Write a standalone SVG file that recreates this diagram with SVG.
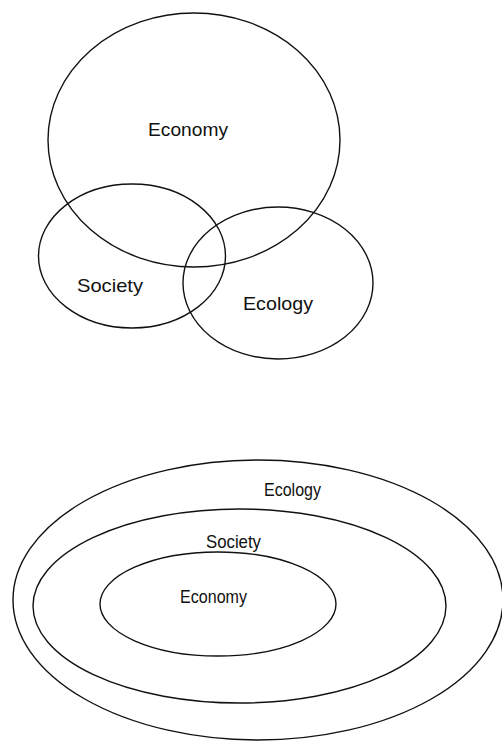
<svg xmlns="http://www.w3.org/2000/svg" width="502" height="742" viewBox="0 0 502 742">
<style>
.c{fill:none;stroke:#111;stroke-width:1.4}
.t{font-family:"Liberation Sans",Arial,sans-serif;font-size:19px;fill:#111}
</style>
<rect width="502" height="742" fill="#fff"/>
<g id="top-economy"><ellipse class="c" cx="194" cy="140" rx="146" ry="127"/><text class="t" x="148" y="136" textLength="80" lengthAdjust="spacingAndGlyphs">Economy</text></g>
<g id="top-society"><ellipse class="c" cx="132" cy="256" rx="93.5" ry="72"/><text class="t" x="77" y="292" textLength="66" lengthAdjust="spacingAndGlyphs">Society</text></g>
<g id="top-ecology"><ellipse class="c" cx="278" cy="283" rx="95" ry="76"/><text class="t" x="243" y="310" textLength="70" lengthAdjust="spacingAndGlyphs">Ecology</text></g>
<g id="bottom-ecology"><ellipse class="c" cx="258" cy="600" rx="245" ry="140"/><text class="t" x="264" y="496" textLength="57" lengthAdjust="spacingAndGlyphs">Ecology</text></g>
<g id="bottom-society"><ellipse class="c" cx="239.5" cy="606" rx="206.5" ry="97"/><text class="t" x="206" y="548" textLength="55" lengthAdjust="spacingAndGlyphs">Society</text></g>
<g id="bottom-economy"><ellipse class="c" cx="218" cy="604" rx="118" ry="52"/><text class="t" x="180" y="603" textLength="67" lengthAdjust="spacingAndGlyphs">Economy</text></g>
<g id="connectors"/>
</svg>
